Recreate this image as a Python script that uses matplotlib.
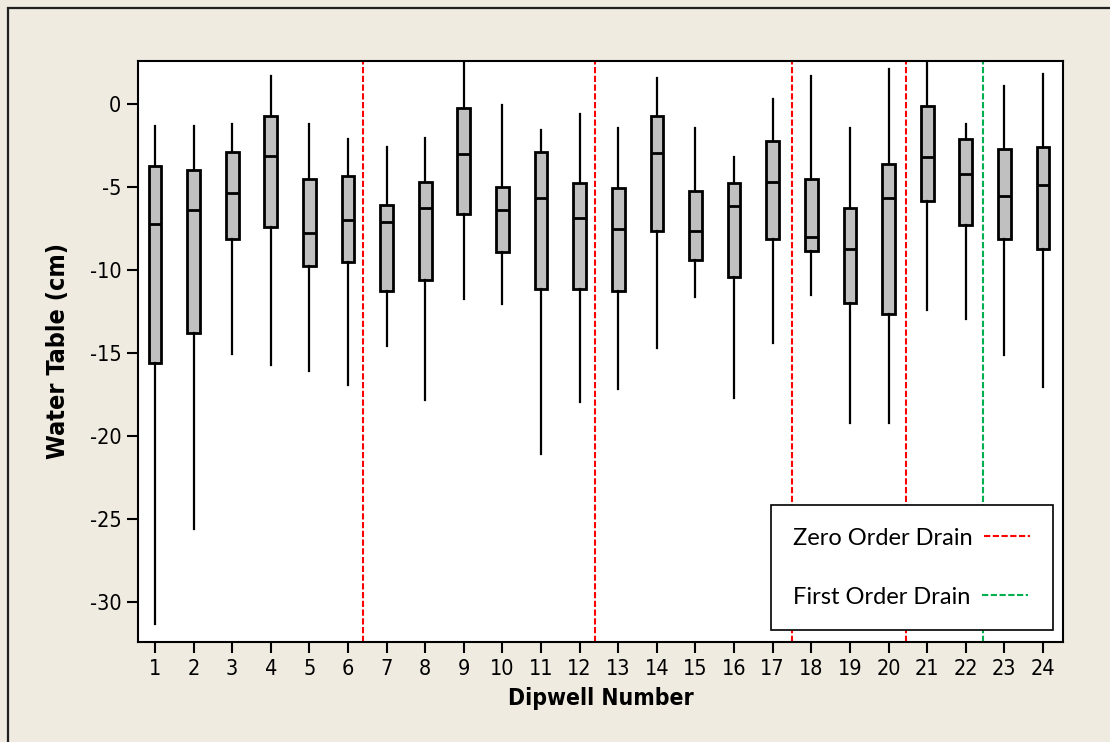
import matplotlib
matplotlib.use("Agg")
import matplotlib.pyplot as plt
from matplotlib.lines import Line2D
from matplotlib.patches import Rectangle

# dipwell box summaries (cm)
dipwells = list(range(1, 25))
whisker_hi = [-1.31, -1.31, -1.19, 1.70, -1.19, -2.11, -2.59, -2.01, 2.8, -0.04, -1.55, -0.60,
              -1.45, 1.57, -1.45, -3.17, 0.30, 1.70, -1.45, 2.14, 2.8, -1.21, 1.12, 1.81]
q3 = [-3.72, -3.96, -2.91, -0.70, -4.52, -4.30, -6.05, -4.66, -0.26, -4.98, -2.91, -4.76,
      -5.08, -0.70, -5.22, -4.76, -2.21, -4.52, -6.27, -3.61, -0.14, -2.11, -2.69, -2.59]
median = [-7.21, -6.39, -5.34, -3.13, -7.77, -6.97, -7.09, -6.27, -3.03, -6.39, -5.66, -6.85,
          -7.55, -2.93, -7.67, -6.14, -4.66, -8.01, -8.72, -5.68, -3.16, -4.20, -5.56, -4.88]
q1 = [-15.6, -13.8, -8.13, -7.43, -9.74, -9.50, -11.23, -10.57, -6.61, -8.92, -11.13, -11.13,
      -11.23, -7.67, -9.40, -10.44, -8.13, -8.82, -11.95, -12.63, -5.81, -7.29, -8.13, -8.72]
whisker_lo = [-31.3, -25.6, -15.04, -15.74, -16.08, -16.9, -14.58, -17.81, -11.71, -12.05, -21.08, -17.95,
              -17.15, -14.72, -11.59, -17.71, -14.36, -11.47, -19.22, -19.22, -12.39, -12.95, -15.14, -17.05]

zero_order_drains = [6.4, 12.4, 17.5, 20.45]
first_order_drains = [22.45]
y_ticks = [0, -5, -10, -15, -20, -25, -30]

BG = "#efebe1"

fig = plt.figure(figsize=(11.1, 7.42), dpi=100, facecolor=BG)
ax = fig.add_axes([0.1243, 0.1348, 0.8334, 0.7830])
ax.set_facecolor("white")

# outer frame (only top and left edges visible in the reference)
fig.patches.append(Rectangle((8 / 1110, -0.1), 1.2, 1 - 8 / 742 + 0.1, transform=fig.transFigure,
                             fill=False, edgecolor="#202020", linewidth=1.6))

stats = [
    {"med": m, "q1": a, "q3": b, "whislo": lo, "whishi": hi, "fliers": []}
    for m, a, b, lo, hi in zip(median, q1, q3, whisker_lo, whisker_hi)
]
ax.bxp(stats, positions=dipwells, widths=0.33, showcaps=False, showfliers=False,
       patch_artist=True,
       boxprops=dict(facecolor="#c0c0c0", edgecolor="black", linewidth=2),
       medianprops=dict(color="black", linewidth=2),
       whiskerprops=dict(color="black", linewidth=1.6))

for x in zero_order_drains:
    ax.axvline(x, color="#ff0000", linestyle=(0, (3, 1.2)), linewidth=1.5, zorder=1)
for x in first_order_drains:
    ax.axvline(x, color="#00b050", linestyle=(0, (3, 1.2)), linewidth=1.5, zorder=1)

ax.set_xlim(0.56, 24.52)
ax.set_ylim(-32.4, 2.6)
ax.set_yticks(y_ticks)
ax.set_yticklabels([str(t) for t in y_ticks])
ax.set_xticks(dipwells)
ax.set_xticklabels([str(d) for d in dipwells])

for s in ax.spines.values():
    s.set_color("black")
    s.set_linewidth(1.5)
ax.tick_params(direction="out", length=8, width=1.5, color="black", labelsize=15.5, pad=4)
for lab in ax.get_xticklabels() + ax.get_yticklabels():
    lab.set_fontstretch("condensed")

ax.set_xlabel("Dipwell Number", fontsize=16.5, fontweight="bold", fontstretch="condensed", labelpad=6)
ax.set_ylabel("Water Table (cm)", fontsize=18, fontweight="bold", fontstretch="condensed", labelpad=14)

handles = [
    Line2D([], [], color="#ff0000", linestyle=(0, (3, 1.2)), linewidth=1.5),
    Line2D([], [], color="#00b050", linestyle=(0, (3, 1.2)), linewidth=1.5),
]
leg = ax.legend(handles, ["Zero Order Drain", "First Order Drain"], loc="lower right",
                bbox_to_anchor=(0.989, 0.0207), borderaxespad=0, markerfirst=False,
                frameon=True, fancybox=False, framealpha=1, edgecolor="black",
                prop={"family": "Lato", "size": 17}, handlelength=1.95, handletextpad=0.5,
                labelspacing=1.6, borderpad=0.95)
leg.get_frame().set_linewidth(1.2)
# text column left-aligned as in the reference
for col in leg._legend_handle_box.get_children():
    col.align = "left"

fig.savefig("out.png", dpi=100, facecolor=BG)
